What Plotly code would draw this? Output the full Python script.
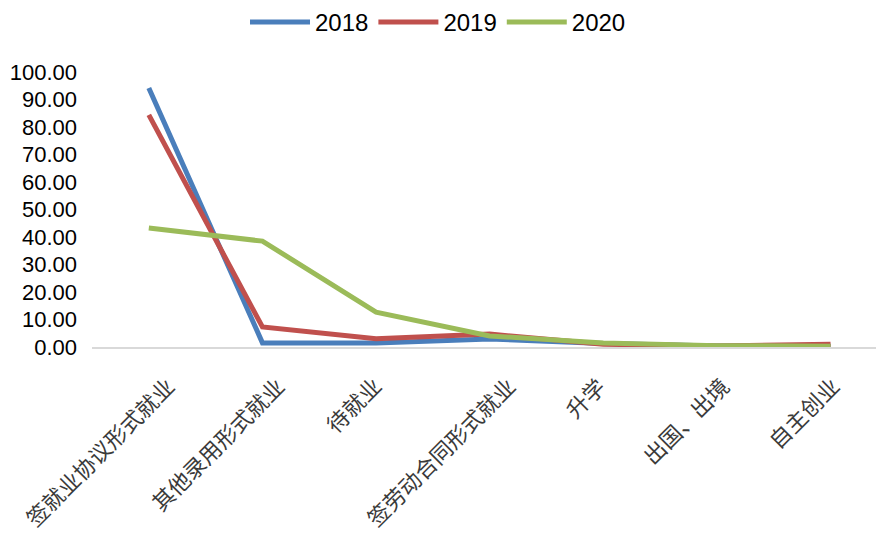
import plotly.graph_objects as go

categories = ["签就业协议形式就业", "其他录用形式就业", "待就业", "签劳动合同形式就业", "升学", "出国、出境", "自主创业"]
v2018 = [94.2, 1.5, 1.5, 2.9, 1.3, 0.4, 0.3]
v2019 = [84.4, 7.3, 3.0, 4.7, 1.0, 0.4, 1.0]
v2020 = [43.3, 38.5, 12.7, 4.0, 1.5, 0.5, 0.3]
series = [("2018", v2018, "#4a7ebb"), ("2019", v2019, "#c0504d"), ("2020", v2020, "#9bbb59")]

fig = go.Figure()
for name, vals, color in series:
    fig.add_trace(go.Scatter(x=categories, y=vals, mode="lines", name=name,
                             line=dict(color=color, width=5)))

for cat in categories:
    fig.add_annotation(x=cat, y=0, xref="x", yref="y", text=cat, showarrow=False,
                       textangle=-45, xanchor="right", yanchor="top",
                       xshift=3.4 * len(cat) + 4, yshift=-20,
                       font=dict(size=22, family="Noto Sans CJK SC", color="#3a3a3a"))

fig.update_layout(
    width=876, height=533,
    margin=dict(l=92, r=0, t=72, b=186, autoexpand=False),
    plot_bgcolor="white", paper_bgcolor="white",
    font=dict(family="Liberation Sans", color="#000000"),
    legend=dict(orientation="h", x=0.5, xanchor="center", xref="container",
                y=1.0, yanchor="top", yref="container",
                font=dict(size=24, family="Liberation Sans"),
                itemwidth=60, traceorder="normal"),
    showlegend=True,
)
fig.update_xaxes(showticklabels=False, automargin=False,
                 showline=True, linecolor="#d9d9d9", linewidth=1.5, showgrid=False,
                 range=[-0.5, 6.4], ticks="")
fig.update_yaxes(range=[0, 100], dtick=10, tickformat=".2f", showgrid=False, zeroline=False,
                 automargin=False, ticklabelstandoff=14,
                 tickfont=dict(size=22, family="Liberation Sans", color="#000"), ticks="")
fig.write_html("out.html", config={"displayModeBar": False},
               post_script="document.body.style.margin='0px';")
